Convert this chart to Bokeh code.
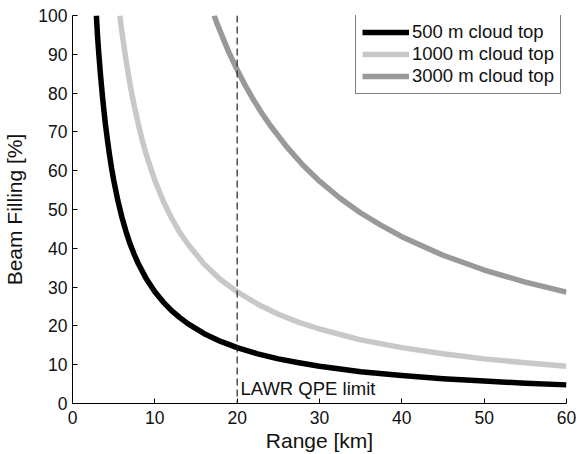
from bokeh.plotting import figure
from bokeh.models import Range1d, Span, Legend, LegendItem, Label
from bokeh.embed import file_html
from bokeh.resources import INLINE

# Data
r500 = [2.9, 3.05, 3.2, 3.4, 3.6, 3.8, 4, 4.25, 4.5, 4.75, 5, 5.5, 6, 6.5, 7, 7.5, 8, 9, 10,
        11, 12, 13, 14, 16, 18, 20, 22.5, 25, 27.5, 30, 35, 40, 45, 50, 55, 60]
bf500 = [100, 94.4, 90, 84.7, 80, 75.8, 72, 67.8, 64, 60.6, 57.6, 52.4, 48, 44.3, 41.1, 38.4, 36, 32, 28.8,
         26.2, 24, 22.2, 20.6, 18, 16, 14.4, 12.8, 11.5, 10.5, 9.6, 8.2, 7.2, 6.4, 5.8, 5.2, 4.8]

r1000 = [5.75, 6, 6.5, 7, 7.5, 8, 8.5, 9, 10, 11, 12, 13, 14, 16, 18, 20, 22.5, 25, 27.5, 30,
         35, 40, 45, 50, 55, 60]
bf1000 = [100, 95.8, 88.5, 82.1, 76.7, 71.9, 67.6, 63.9, 57.5, 52.3, 47.9, 44.2, 41.1, 35.9, 31.9, 28.8,
          25.6, 23, 20.9, 19.2, 16.4, 14.4, 12.8, 11.5, 10.5, 9.6]

r3000 = [17.2, 17.6, 18, 18.5, 19, 20, 21, 22, 23, 24, 26, 28, 30, 32.5, 35, 37.5, 40, 45, 50, 55, 60]
bf3000 = [100, 97.7, 95.6, 93, 90.5, 86, 81.9, 78.2, 74.8, 71.7, 66.2, 61.4, 57.3, 52.9, 49.1, 45.9,
          43, 38.2, 34.4, 31.3, 28.7]

series_names = ["500 m cloud top", "1000 m cloud top", "3000 m cloud top"]
series_colors = ["#000000", "#c8c8c8", "#999999"]

limit_x = 20
limit_label = "LAWR QPE limit"

x_ticks = [0, 10, 20, 30, 40, 50, 60]
y_ticks = [0, 10, 20, 30, 40, 50, 60, 70, 80, 90, 100]

FONT = "Liberation Sans"

p = figure(width=580, height=454, output_backend="svg", toolbar_location=None,
           x_range=Range1d(0, 60), y_range=Range1d(0, 100),
           min_border_left=72, min_border_right=14, min_border_top=15, min_border_bottom=51)
p.outline_line_color = None
p.grid.visible = False
p.background_fill_color = "white"

renderers = []
for xs, ys, c in zip([r500, r1000, r3000], [bf500, bf1000, bf3000], series_colors):
    renderers.append(p.line(xs, ys, line_color=c, line_width=5.5, line_join="round"))

p.add_layout(Span(location=limit_x, dimension="height", line_color="#222222",
                  line_width=1.2, line_dash="7 4"))
p.add_layout(Label(x=limit_x + 0.4, y=3.8, text=limit_label, text_font=FONT,
                   text_font_size="18.5px", text_color="#111111", text_baseline="alphabetic"))

for ax in (p.xaxis[0], p.yaxis[0]):
    ax.major_tick_in = 5
    ax.major_tick_out = 0
    ax.minor_tick_line_color = None
    ax.axis_line_color = "black"
    ax.major_tick_line_color = "black"
    ax.major_label_text_font = FONT
    ax.major_label_text_font_size = "17.5px"
    ax.major_label_text_color = "#111111"
    ax.axis_label_text_font = FONT
    ax.axis_label_text_font_size = "21px"
    ax.axis_label_text_font_style = "normal"
    ax.axis_label_text_color = "#111111"

p.xaxis.ticker = x_ticks
p.yaxis.ticker = y_ticks
p.xaxis.axis_label = "Range [km]"
p.yaxis.axis_label = "Beam Filling [%]"
p.xaxis.major_label_standoff = 7
p.yaxis.major_label_standoff = 5
p.xaxis.axis_label_standoff = 2
p.yaxis.axis_label_standoff = 9

legend = Legend(items=[LegendItem(label=n, renderers=[r]) for n, r in zip(series_names, renderers)],
                location=(283, 309), padding=6, spacing=0, margin=0,
                glyph_width=47, glyph_height=20, label_height=20, label_standoff=3,
                label_text_font=FONT, label_text_font_size="18.5px", label_text_color="#111111",
                border_line_color="black", border_line_width=1, background_fill_alpha=1)
p.add_layout(legend, "center")

open("out.html", "w").write(file_html(p, INLINE))
